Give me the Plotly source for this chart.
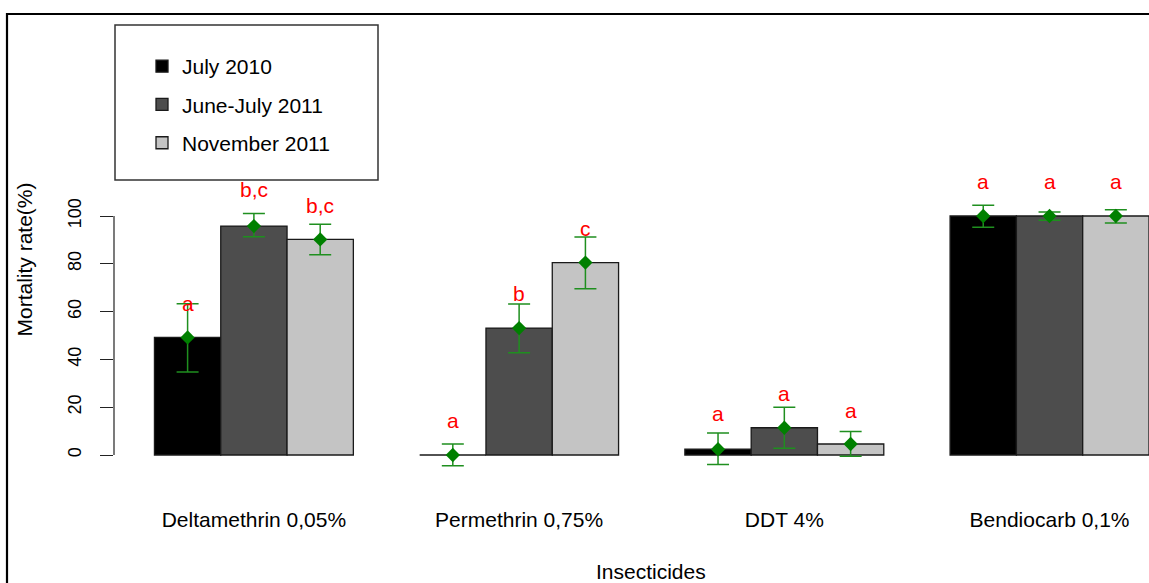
import plotly.graph_objects as go

# ---------------- data ----------------
groups = ["Deltamethrin 0,05%", "Permethrin 0,75%", "DDT 4%", "Bendiocarb 0,1%"]
series_names = ["July 2010", "June-July 2011", "November 2011"]

july_2010 = [49.2, 0.0, 2.4, 100.0]
june_july_2011 = [95.8, 53.1, 11.4, 100.0]
november_2011 = [90.2, 80.5, 4.6, 100.0]

july_2010_upper = [63.3, 4.6, 9.2, 104.5]
june_july_2011_upper = [101.0, 63.2, 20.0, 101.7]
november_2011_upper = [96.5, 91.2, 9.8, 102.6]

july_2010_lower = [34.7, -4.5, -4.0, 95.3]
june_july_2011_lower = [91.3, 42.8, 2.8, 98.2]
november_2011_lower = [83.8, 69.6, -0.5, 97.1]

july_2010_letters = ["a", "a", "a", "a"]
june_july_2011_letters = ["b,c", "b", "a", "a"]
november_2011_letters = ["b,c", "c", "a", "a"]

july_2010_letter_y = [63.6, 14.6, 17.4, 114.4]
june_july_2011_letter_y = [110.9, 67.4, 25.8, 114.4]
november_2011_letter_y = [104.6, 94.9, 18.8, 114.4]

y_ticks = [0, 20, 40, 60, 80, 100]

# ---------------- style ----------------
bar_colors = ["#000000", "#4D4D4D", "#C4C4C4"]
W, H = 1149, 583
ML, MR, MT, MB = 114, 0, 14, 78
FONT = "Arial, Liberation Sans, sans-serif"


def px_x(px):
    return (px - ML) / (W - ML - MR)


def px_y(py):
    return (H - MB - py) / (H - MT - MB)


series = [
    (series_names[0], july_2010, july_2010_lower, july_2010_upper, july_2010_letters, july_2010_letter_y),
    (series_names[1], june_july_2011, june_july_2011_lower, june_july_2011_upper, june_july_2011_letters, june_july_2011_letter_y),
    (series_names[2], november_2011, november_2011_lower, november_2011_upper, november_2011_letters, november_2011_letter_y),
]

n_series = len(series)
gap = 1
group_step = n_series + gap


def bar_x(g, k):
    return gap + group_step * g + k + 0.5


fig = go.Figure()
annotations = []

for k, (name, vals, lo, hi, lets, ly) in enumerate(series):
    xs = [bar_x(g, k) for g in range(len(groups))]
    fig.add_trace(go.Bar(
        x=xs, y=vals, width=1, name=name, legendgroup=name,
        marker=dict(color=bar_colors[k], line=dict(color="#1a1a1a", width=1.3)),
        hoverinfo="skip",
    ))

for k, (name, vals, lo, hi, lets, ly) in enumerate(series):
    xs = [bar_x(g, k) for g in range(len(groups))]
    fig.add_trace(go.Scatter(
        x=xs, y=vals, mode="markers", showlegend=False, hoverinfo="skip",
        marker=dict(symbol="diamond", size=11, color="#008000"),
        error_y=dict(type="data", symmetric=False,
                     array=[h - v for h, v in zip(hi, vals)],
                     arrayminus=[v - l for v, l in zip(vals, lo)],
                     color="#1f8f1f", thickness=1.5, width=11),
    ))
    for x, t, yv in zip(xs, lets, ly):
        annotations.append(dict(x=x, y=yv, xref="x", yref="y", text=t, showarrow=False,
                                font=dict(family=FONT, size=21, color="#FF0000"),
                                xanchor="center", yanchor="middle"))

# x-axis title placed as text
annotations.append(dict(x=px_x(651), y=px_y(571), xref="paper", yref="paper", text="Insecticides",
                        showarrow=False, font=dict(family=FONT, size=21, color="#000000"),
                        xanchor="center", yanchor="middle"))

shapes = [
    # outer frame (cropped on right and bottom)
    dict(type="rect", xref="paper", yref="paper", x0=px_x(7), x1=px_x(1200), y0=px_y(640), y1=px_y(14),
         line=dict(color="#000000", width=2.2), fillcolor="rgba(0,0,0,0)", layer="above"),
    # legend box
    dict(type="rect", xref="paper", yref="paper", x0=px_x(115), x1=px_x(378), y0=px_y(180), y1=px_y(25),
         line=dict(color="#333333", width=1.5), fillcolor="rgba(0,0,0,0)"),
    # y axis line from 0 to 100
    dict(type="line", xref="paper", yref="y", x0=0, x1=0, y0=y_ticks[0], y1=y_ticks[-1],
         line=dict(color="#222222", width=1.2)),
]

group_centers = [gap + group_step * g + n_series / 2 for g in range(len(groups))]

fig.update_layout(
    width=W, height=H,
    margin=dict(l=ML, r=MR, t=MT, b=MB, pad=0),
    paper_bgcolor="white", plot_bgcolor="white",
    barmode="overlay",
    font=dict(family=FONT, color="#000000"),
    showlegend=True,
    legend=dict(x=px_x(142), y=px_y(46), xanchor="left", yanchor="top",
                font=dict(family=FONT, size=21, color="#000000"),
                bgcolor="rgba(0,0,0,0)", borderwidth=0, tracegroupgap=8,
                traceorder="grouped"),
    xaxis=dict(range=[0.39, 16.0], tickvals=group_centers, ticktext=groups,
               showgrid=False, zeroline=False, showline=False, ticks="",
               tickfont=dict(family=FONT, size=21, color="#000000")),
    yaxis=dict(range=[-20.92, 184.52], tickvals=y_ticks, ticktext=[str(v) for v in y_ticks],
               showgrid=False, zeroline=False, showline=False,
               ticks="outside", ticklen=13, tickwidth=1.2, tickcolor="#222222",
               ticklabelstandoff=12,
               tickangle=-90, tickfont=dict(family=FONT, size=18, color="#000000"),
               title=dict(text="Mortality rate(%)", standoff=26,
                          font=dict(family=FONT, size=21, color="#000000"))),
    shapes=shapes,
    annotations=annotations,
)

fig.write_html(
    "out.html",
    config={"displayModeBar": False},
    post_script="document.body.style.margin='0';document.documentElement.style.overflow='hidden';document.body.style.overflow='hidden';",
)
